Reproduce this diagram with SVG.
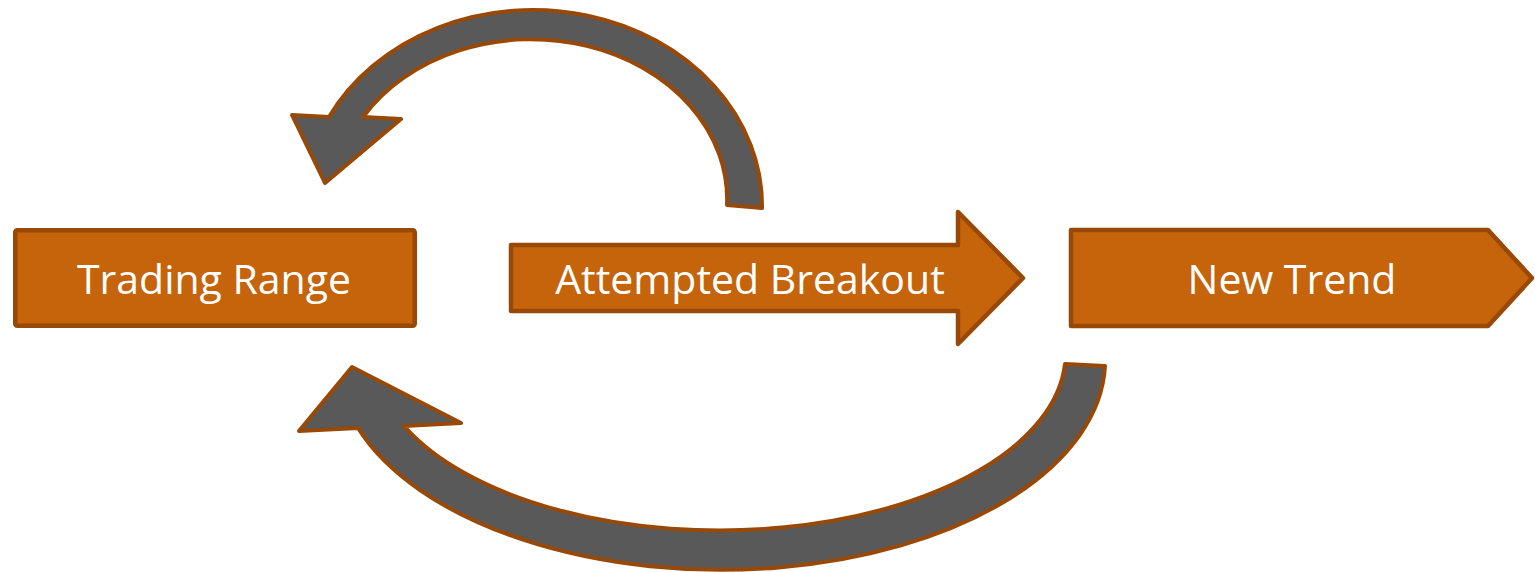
<svg xmlns="http://www.w3.org/2000/svg" width="1535" height="572" viewBox="0 0 1535 572">
<style>
.box{fill:#C5640A;stroke:#984807;stroke-width:4.5;stroke-linejoin:round}
.curve{fill:#595959;stroke:#984807;stroke-width:4;stroke-linejoin:round}
.lbl{font-family:"Open Sans","DejaVu Sans",sans-serif;font-size:41px;fill:#FFFFFF;text-anchor:middle}
</style>
<rect width="1535" height="572" fill="#FFFFFF"/>
<g id="connectors">
<path class="curve" d="M 762,208 A 229 196 0 0 0 329,117 L 292,115 L 325,183 L 401,119 L 363,117 A 196 160 0 0 1 727,205 Z"/>
<path class="curve" d="M 1065,364 L 1105,366 A 384 210 0 0 1 358,428 L 299,431 L 352,367 L 461,423 L 404,426 A 346 177 0 0 0 1065,364 Z"/>
</g>
<g id="trading-range">
<rect class="box" x="15.25" y="230.25" width="399.5" height="95.5" rx="2"/>
<text class="lbl" x="214" y="294">Trading Range</text>
</g>
<g id="attempted-breakout">
<path class="box" d="M 511,245 L 958,245 L 958,212 L 1023,278 L 958,344 L 958,311 L 511,311 Z"/>
<text class="lbl" x="750" y="294">Attempted Breakout</text>
</g>
<g id="new-trend">
<path class="box" d="M 1071,230 L 1488,230 L 1532,278 L 1488,326 L 1071,326 Z"/>
<text class="lbl" x="1292" y="294">New Trend</text>
</g>
</svg>
